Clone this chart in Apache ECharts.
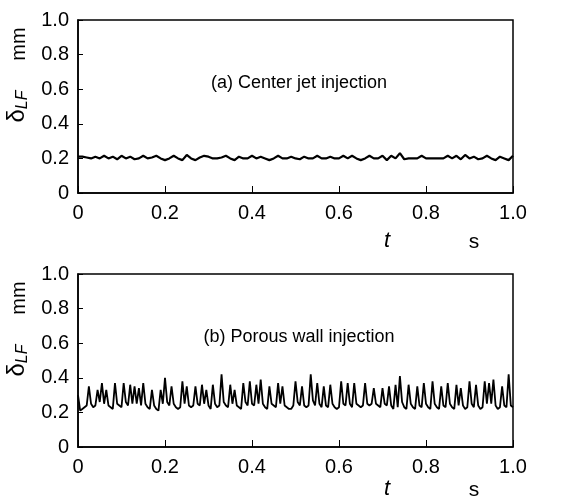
<!DOCTYPE html>
<html>
<head>
<meta charset="utf-8">
<script src="https://cdn.jsdelivr.net/npm/echarts@6/dist/echarts.min.js"></script>
<style>
html,body{margin:0;padding:0;background:#fff;}
#chart{width:570px;height:497px;}
</style>
</head>
<body>
<div id="chart"></div>
<script>
// (a) center jet injection, sampled every 0.01 s
var stepA = 0.01;
var deltaA = [
  0.21,0.21,0.205,0.20,0.21,0.20,0.215,0.20,0.21,0.195,
  0.215,0.20,0.21,0.195,0.20,0.215,0.20,0.205,0.215,0.20,
  0.19,0.20,0.215,0.20,0.19,0.22,0.20,0.19,0.205,0.215,
  0.21,0.20,0.20,0.205,0.215,0.20,0.19,0.21,0.20,0.20,
  0.215,0.20,0.21,0.20,0.19,0.20,0.215,0.20,0.20,0.21,
  0.20,0.195,0.21,0.20,0.20,0.215,0.20,0.20,0.21,0.20,
  0.20,0.215,0.20,0.215,0.20,0.19,0.20,0.215,0.20,0.20,
  0.215,0.19,0.215,0.20,0.23,0.195,0.20,0.20,0.20,0.215,
  0.20,0.20,0.20,0.20,0.20,0.215,0.20,0.215,0.195,0.22,
  0.20,0.21,0.195,0.20,0.215,0.20,0.19,0.21,0.20,0.19,0.215
];
// (b) porous wall injection, sampled every 0.005 s
var stepB = 0.005;
var deltaB = [
  0.30,0.21,0.22,0.23,0.24,0.35,0.25,0.23,0.24,0.33,
  0.26,0.37,0.25,0.33,0.24,0.23,0.22,0.37,0.25,0.24,
  0.23,0.37,0.26,0.24,0.36,0.25,0.35,0.25,0.34,0.24,
  0.37,0.25,0.23,0.22,0.33,0.24,0.22,0.21,0.33,0.25,
  0.40,0.26,0.24,0.35,0.25,0.23,0.22,0.23,0.38,0.25,
  0.35,0.24,0.23,0.24,0.35,0.25,0.24,0.36,0.25,0.33,
  0.24,0.22,0.36,0.25,0.23,0.24,0.42,0.26,0.24,0.23,
  0.36,0.25,0.33,0.24,0.23,0.22,0.37,0.26,0.24,0.38,
  0.25,0.24,0.36,0.25,0.39,0.25,0.23,0.22,0.35,0.25,
  0.24,0.23,0.37,0.25,0.35,0.24,0.23,0.22,0.22,0.24,
  0.38,0.26,0.24,0.35,0.24,0.23,0.24,0.42,0.27,0.24,
  0.37,0.25,0.23,0.35,0.24,0.23,0.36,0.25,0.23,0.22,
  0.23,0.38,0.25,0.24,0.37,0.25,0.23,0.37,0.25,0.24,
  0.23,0.24,0.37,0.25,0.24,0.25,0.34,0.25,0.24,0.23,
  0.34,0.25,0.24,0.35,0.24,0.22,0.36,0.23,0.41,0.26,
  0.23,0.22,0.36,0.25,0.23,0.22,0.35,0.24,0.23,0.37,
  0.25,0.23,0.22,0.38,0.25,0.23,0.22,0.35,0.24,0.23,
  0.37,0.25,0.23,0.22,0.36,0.24,0.34,0.24,0.22,0.23,
  0.38,0.25,0.23,0.36,0.24,0.22,0.23,0.38,0.25,0.37,
  0.25,0.39,0.24,0.22,0.23,0.35,0.24,0.23,0.42,0.24,
  0.23
];
var tickLabels = ['0','0.2','0.4','0.6','0.8','1.0'];
var panelTitles = ['(a) Center jet injection','(b) Porous wall injection'];

var FONT = '"Liberation Sans Narrow","Liberation Sans",Arial,sans-serif';

function pairs(arr, step){
  var out = [];
  for (var i = 0; i < arr.length; i++) out.push([+(i*step).toFixed(4), arr[i]]);
  return out;
}
function lab(v){ return tickLabels[Math.round(v/0.2)]; }

var grids = [
  {left:78, top:20, width:435, height:173},
  {left:78, top:274, width:435, height:173}
];

function xAx(i){
  return {
    type:'value', gridIndex:i, min:0, max:1, interval:0.2,
    axisLine:{lineStyle:{color:'#000',width:1.5}},
    axisTick:{inside:true,length:7,lineStyle:{color:'#000',width:1}},
    axisLabel:{color:'#000',fontSize:20,fontFamily:FONT,margin:10,formatter:lab},
    splitLine:{show:false}
  };
}
function yAx(i){
  return {
    type:'value', gridIndex:i, min:0, max:1, interval:0.2,
    name:'{d|δ}{s|LF}', nameLocation:'middle', nameRotate:90, nameGap:45,
    nameTextStyle:{rich:{
      d:{fontSize:24,fontFamily:FONT,color:'#000'},
      s:{fontSize:16,fontFamily:FONT,fontStyle:'italic',color:'#000',verticalAlign:'bottom',padding:[10,0,0,0]}
    }},
    axisLine:{lineStyle:{color:'#000',width:1.5}},
    axisTick:{inside:true,length:5,lineStyle:{color:'#000',width:1}},
    axisLabel:{color:'#000',fontSize:20,fontFamily:FONT,margin:9,formatter:lab},
    splitLine:{show:false}
  };
}

function txt(x, y, s, font, rot){
  return {type:'text', x:x, y:y, rotation:rot || 0,
    style:{text:s, font:font, fill:'#000', align:'center', verticalAlign:'middle',
      textAlign:'center', textVerticalAlign:'middle'}};
}

var graphics = [];
var tOffsets = [48, 42];
[0,1].forEach(function(i){
  var g = grids[i];
  graphics.push(txt(19, g.top+24, 'mm', '20px '+FONT, Math.PI/2));
  graphics.push(txt(299, g.top+63, panelTitles[i], '18px '+FONT));
  graphics.push(txt(387, g.top+g.height+tOffsets[i], 't', 'italic 22px '+FONT));
  graphics.push(txt(474, g.top+g.height+tOffsets[i]+1, 's', '21px '+FONT));
});

var chart = echarts.init(document.getElementById('chart'), null, {renderer:'canvas'});
chart.setOption({
  backgroundColor:'#fff',
  animation:false,
  grid:grids.map(function(g){
    return Object.assign({show:true,borderColor:'#000',borderWidth:1.5,backgroundColor:'transparent',
      containLabel:false, outerBoundsMode:'none'}, g);
  }),
  xAxis:[xAx(0), xAx(1)],
  yAxis:[yAx(0), yAx(1)],
  graphic:graphics,
  series:[
    {type:'line', xAxisIndex:0, yAxisIndex:0, data:pairs(deltaA, stepA), showSymbol:false,
      lineStyle:{color:'#000',width:2.2}},
    {type:'line', xAxisIndex:1, yAxisIndex:1, data:pairs(deltaB, stepB), showSymbol:false,
      lineStyle:{color:'#000',width:1.8}}
  ]
});
</script>
</body>
</html>
